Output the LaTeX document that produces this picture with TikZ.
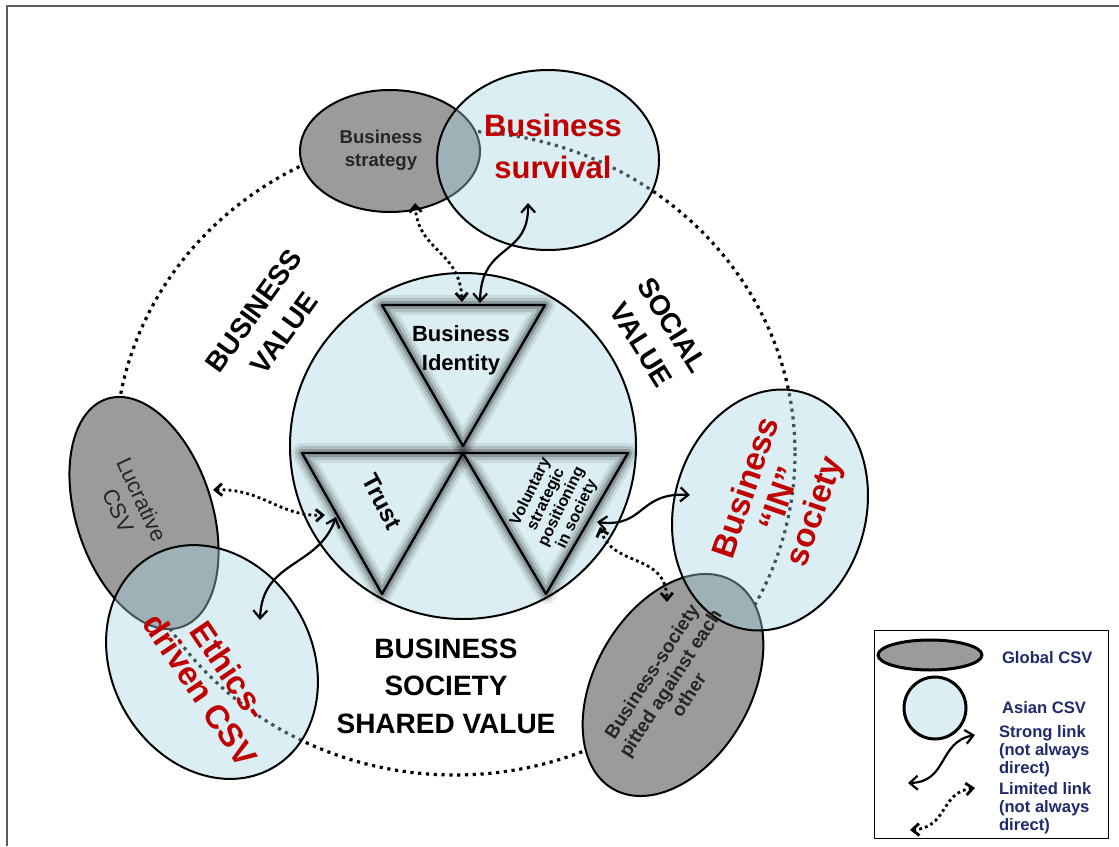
\documentclass[tikz,border=0pt]{standalone}
\usepackage{fontspec}
\setmainfont{Liberation Sans}
\usetikzlibrary{arrows.meta, shapes.geometric}
\definecolor{asianblue}{RGB}{218,238,243}
\definecolor{asianglass}{RGB}{162,212,225}
\definecolor{globalgray}{RGB}{155,155,155}
\definecolor{csvred}{RGB}{192,0,0}
\definecolor{legendnavy}{RGB}{31,41,110}
\definecolor{framegray}{RGB}{90,90,90}

\begin{document}
\begin{tikzpicture}[x=0.5pt, y=-0.5pt, line cap=round, line join=round,
	globalcsv/.style={ellipse, draw=black, line width=1pt, fill=globalgray, inner sep=0pt},
	asiancsv/.style={ellipse, draw=black, line width=1pt, fill=asianglass, fill opacity=0.4, inner sep=0pt},
	shadedtri/.style={fill=asianblue,
		postaction={draw=black, line width=10pt, opacity=0.08},
		postaction={draw=black, line width=7pt, opacity=0.12},
		postaction={draw=black, line width=4pt, opacity=0.2},
		postaction={draw=black, line width=1.2pt}},
	stronglink/.style={{Straight Barb[length=4pt,width=7pt]}-{Straight Barb[length=4pt,width=7pt]}, line width=1.1pt},
	limitedlink/.style={{Straight Barb[length=3.5pt,width=6pt]}-{Straight Barb[length=3.5pt,width=6pt]}, line width=1.4pt, line cap=butt, dash pattern=on 1.4pt off 1.6pt},
	redlabel/.style={text=csvred, align=center, font=\bfseries\fontsize{16.5}{#1}\selectfont},
	valuelabel/.style={align=center, font=\bfseries\fontsize{14}{#1}\selectfont},
	smalllabel/.style={align=center, text=black!85, font=\bfseries\fontsize{9.5}{#1}\selectfont},
	legendtext/.style={anchor=west, align=left, text=legendnavy, font=\bfseries\fontsize{8.3}{9}\selectfont}]
	
	\useasboundingbox (0,0) rectangle (1119,846);
	
	%========================
	% frame
	%========================
	\draw[framegray, line width=1pt, line cap=butt] (7,846) -- (7,6) -- (1119,6);
	
	% dotted ring round the model
	\draw[line width=1.6pt, line cap=butt, dash pattern=on 1.6pt off 2.3pt] (455,453) ellipse [x radius=340, y radius=322];
	
	%========================
	% Global CSV (grey ellipses)
	%========================
	\node[globalcsv, minimum width=90pt, minimum height=61pt] (strategy) at (390,151) {};
	\node[globalcsv, minimum width=120pt, minimum height=68pt, rotate=-72] (lucrative) at (144,513) {};
	\node[globalcsv, minimum width=120pt, minimum height=78pt, rotate=60] (pitted) at (673,685) {};
	
	%========================
	% Asian CSV (blue circles)
	%========================
	\node[asiancsv, minimum width=111pt, minimum height=90pt] (survival) at (548,160) {};
	\node[asiancsv, minimum width=122pt, minimum height=100pt, rotate=-60] (ethics) at (212,662) {};
	\node[asiancsv, minimum width=122pt, minimum height=96pt, rotate=75] (insociety) at (770,510) {};
	
	%========================
	% centre: shared value circle
	%========================
	\node[circle, draw=black, line width=1pt, fill=asianblue, minimum size=173pt, inner sep=0pt] (core) at (463,446) {};
	\draw[shadedtri] (382,305) -- (545,305) -- (463,446) -- cycle;
	\draw[shadedtri] (302,453) -- (463,453) -- (382,594) -- cycle;
	\draw[shadedtri] (463,453) -- (628,453) -- (546,594) -- cycle;
	
	%========================
	% links
	%========================
	\coordinate (survivalEnd) at (528,203);
	\coordinate (identityEnd) at (480,303);
	\coordinate (trustEnd) at (336,517);
	\coordinate (ethicsEnd) at (260,620);
	\coordinate (voluntaryEnd) at (597,522);
	\coordinate (insocietyEnd) at (690,495);
	\coordinate (strategyEnd) at (415,203);
	\coordinate (identityEndB) at (462,302);
	\coordinate (lucrativeEnd) at (213,490);
	\coordinate (trustEndB) at (325,515);
	\coordinate (voluntaryEndB) at (600,527);
	\coordinate (pittedEnd) at (667,602);
	
	% strong links
	\draw[stronglink] (survivalEnd) .. controls (529,258) and (481,242) .. (identityEnd);
	\draw[stronglink] (trustEnd) .. controls (318,568) and (262,560) .. (ethicsEnd);
	\draw[stronglink] (voluntaryEnd) .. controls (645,528) and (638,492) .. (insocietyEnd);
	% limited links
	\draw[limitedlink] (strategyEnd) .. controls (418,252) and (460,250) .. (identityEndB);
	\draw[limitedlink] (lucrativeEnd) .. controls (262,488) and (280,517) .. (trustEndB);
	\draw[limitedlink] (voluntaryEndB) .. controls (612,568) and (666,552) .. (pittedEnd);
	
	%========================
	% labels
	%========================
	\node[redlabel=21pt, font=\bfseries\fontsize{15.5}{21}\selectfont] (survivaltext) at (553,146) {Business\\survival};
	\node[redlabel=17.5pt, rotate=-56] (ethicstext) at (215,680) {Ethics-\\driven CSV};
	\node[redlabel=18pt, rotate=71] (insocietytext) at (782,500) {Business\\“IN”\\society};
	
	\node[smalllabel=11.5pt, font=\bfseries\fontsize{9.3}{11.5}\selectfont] (strategytext) at (381,150) {Business\\strategy};
	\node[align=center, text=black!85, font=\fontsize{11}{13}\selectfont, rotate=-65] (lucrativetext) at (130,505) {Lucrative\\CSV};
	\node[smalllabel=11pt, rotate=57] (pittedtext) at (670,683) {Business-society\\pitted against each\\other};
	
	\node[align=center, font=\bfseries\fontsize{11}{14.5}\selectfont] (identitytext) at (461,350) {Business\\Identity};
	\node[font=\bfseries\fontsize{12}{14}\selectfont, rotate=-62] (trusttext) at (382,502) {Trust};
	\node[align=center, font=\bfseries\fontsize{8}{8.6}\selectfont, rotate=64] (voluntarytext) at (554,503) {Voluntary\\strategic\\positioning\\in society};
	
	\node[valuelabel=19pt, rotate=54] (businessvalue) at (269,322) {BUSINESS\\VALUE};
	\node[valuelabel=18.5pt, rotate=-58] (socialvalue) at (657,335) {SOCIAL\\VALUE};
	\node[valuelabel=18.75pt] (sharedvalue) at (446,686) {BUSINESS\\SOCIETY\\SHARED VALUE};
	
	%========================
	% legend
	%========================
	\node[draw=black, line width=0.5pt, fill=white, minimum width=117pt, minimum height=104pt] (legend) at (991,734) {};
	\node[ellipse, draw=black, line width=1.5pt, fill=globalgray, minimum width=52pt, minimum height=15pt, inner sep=0pt] (legglobal) at (930,655) {};
	\node[circle, draw=black, line width=1.5pt, fill=asianblue, minimum size=31pt, inner sep=0pt] (legasian) at (935,708) {};
	\node[legendtext] (legglobaltext) at (995,658) {Global CSV};
	\node[legendtext] (legasiantext) at (995,708) {Asian CSV};
	\node[legendtext] (legstrongtext) at (992,751) {Strong link\\(not always\\direct)};
	\node[legendtext] (leglimitedtext) at (992,808) {Limited link\\(not always\\direct)};
	
	\coordinate (legStrongA) at (975,735);
	\coordinate (legStrongB) at (908,783);
	\coordinate (legLimitedA) at (975,788);
	\coordinate (legLimitedB) at (910,830);
	\draw[stronglink] (legStrongA) .. controls (938,742) and (948,782) .. (legStrongB);
	\draw[limitedlink] (legLimitedA) .. controls (940,792) and (948,828) .. (legLimitedB);
	
\end{tikzpicture}
\end{document}
